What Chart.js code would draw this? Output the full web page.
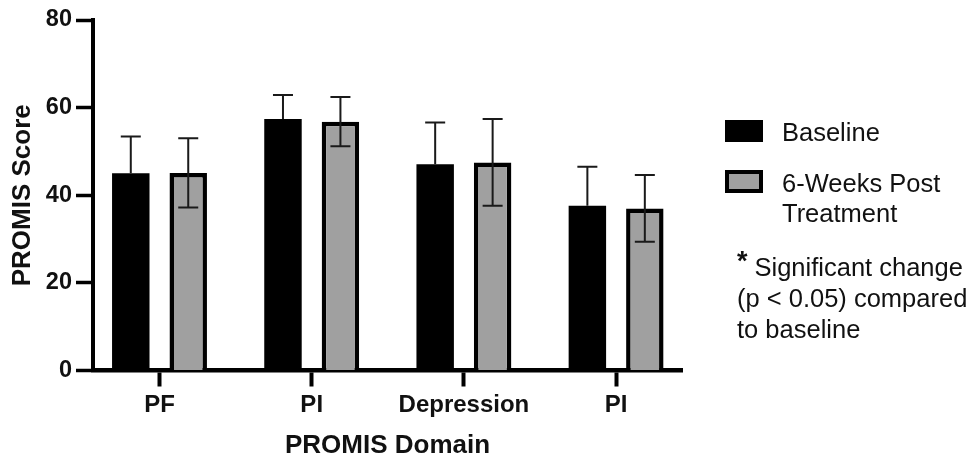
<!DOCTYPE html>
<html>
<head>
<meta charset="utf-8">
<script src="https://cdn.jsdelivr.net/npm/chart.js@4/dist/chart.umd.min.js"></script>
<style>
  html, body { margin: 0; padding: 0; background: #fff; }
  #wrap { position: relative; width: 977px; height: 457px; overflow: hidden; font-family: 'Liberation Sans', Arial, Helvetica, sans-serif; color: #111; }
  #c { position: absolute; left: 0; top: 0; }
  .box { position: absolute; box-sizing: border-box; }
  .txt { position: absolute; font-size: 25.5px; line-height: 30px; white-space: nowrap; }
  .star { font-weight: bold; font-size: 27px; position: relative; top: -6px; margin-right: 7px; }
</style>
</head>
<body>
<div id="wrap">
  <canvas id="c" width="977" height="457"></canvas>
  <div class="box" style="left:725px;top:120px;width:38px;height:22px;background:#000;"></div>
  <div class="txt" id="lg1" style="left:782px;top:117px;"></div>
  <div class="box" style="left:725px;top:170px;width:38px;height:23px;background:#a0a0a0;border:4px solid #000;"></div>
  <div class="txt" id="lg2" style="left:782px;top:168px;"></div>
  <div class="txt" id="note" style="left:737px;top:252px;line-height:31px;"></div>
</div>
<script>
// ---- data ----
const categories = ['PF', 'PI', 'Depression', 'PI'];
const seriesNames = ['Baseline', '6-Weeks Post', 'Treatment'];
const baselineValues = [45.0, 57.4, 47.1, 37.6];
const baselineErrors = [8.4, 5.5, 9.5, 8.9];
const postValues = [45.1, 56.8, 47.5, 37.0];
const postErrors = [7.9, 5.6, 9.9, 7.6];
const yTicks = [0, 20, 40, 60, 80];
const yTitle = 'PROMIS Score';
const xTitle = 'PROMIS Domain';
const noteLines = ['Significant change', '(p < 0.05) compared', 'to baseline'];

// legend / note text
document.getElementById('lg1').textContent = seriesNames[0];
document.getElementById('lg2').innerHTML = seriesNames[1] + '<br>' + seriesNames[2];
document.getElementById('note').innerHTML = '<span class="star">*</span>' + noteLines.join('<br>');

const FONT = "'Liberation Sans', Arial, Helvetica, sans-serif";

const errorBars = {
  id: 'errorBars',
  afterDatasetsDraw(chart) {
    const ctx = chart.ctx;
    const ys = chart.scales.y;
    chart.data.datasets.forEach((ds, di) => {
      const meta = chart.getDatasetMeta(di);
      meta.data.forEach((bar, i) => {
        const v = ds.data[i].y, e = ds.errors[i];
        const x = bar.x;
        const yt = ys.getPixelForValue(v + e);
        const yb = ys.getPixelForValue(v - e);
        const y0 = ys.getPixelForValue(v);
        ctx.save();
        ctx.strokeStyle = '#1a1a1a';
        ctx.lineWidth = 2;
        ctx.beginPath();
        ctx.moveTo(x, yt); ctx.lineTo(x, ds.errorLower ? yb : y0);
        ctx.moveTo(x - 10, yt); ctx.lineTo(x + 10, yt);
        if (ds.errorLower) { ctx.moveTo(x - 10, yb); ctx.lineTo(x + 10, yb); }
        ctx.stroke();
        ctx.restore();
      });
    });
  }
};

new Chart(document.getElementById('c'), {
  type: 'bar',
  data: {
    datasets: [
      {
        label: seriesNames[0],
        data: baselineValues.map((v, i) => ({ x: i, y: v })),
        errors: baselineErrors,
        errorLower: false,
        backgroundColor: '#000',
        borderWidth: 0
      },
      {
        label: seriesNames[1] + ' ' + seriesNames[2],
        data: postValues.map((v, i) => ({ x: i, y: v })),
        errors: postErrors,
        errorLower: true,
        backgroundColor: '#a0a0a0',
        borderColor: '#000',
        borderWidth: 4.5
      }
    ]
  },
  options: {
    responsive: false,
    animation: false,
    categoryPercentage: 0.755,
    barPercentage: 0.652,
    layout: { padding: { left: 6, top: 20, right: 295, bottom: 0 } },
    plugins: { legend: { display: false }, tooltip: { enabled: false } },
    scales: {
      x: {
        type: 'linear',
        min: -0.437,
        max: 3.433,
        offset: false,
        z: 1,
        afterBuildTicks(scale) { scale.ticks = categories.map((c, i) => ({ value: i })); },
        afterFit(scale) { scale.height = 86.5; },
        grid: { display: true, drawOnChartArea: false, offset: false, tickLength: 16, tickWidth: 4, tickColor: '#000' },
        border: { display: true, color: '#000', width: 4.5 },
        ticks: {
          autoSkip: false, maxRotation: 0, padding: 4, color: '#111',
          font: { family: FONT, size: 24, weight: 'bold' },
          callback: (v) => categories[v]
        },
        title: { display: true, text: xTitle, color: '#111', padding: { top: 0, bottom: -2 }, font: { family: FONT, size: 26, weight: 'bold', lineHeight: 1 } }
      },
      y: {
        min: 0, max: 80,
        z: 1,
        afterBuildTicks(scale) { scale.ticks = yTicks.map(v => ({ value: v })); },
        afterFit(scale) { scale.width = 87; },
        grid: { display: true, drawOnChartArea: false, tickLength: 17, tickWidth: 3.5, tickColor: '#000' },
        border: { display: true, color: '#000', width: 4 },
        ticks: { padding: 4, color: '#111', font: { family: FONT, size: 23.5, weight: 'bold' } },
        title: { display: true, text: yTitle, color: '#111', padding: { top: 3.5, bottom: 0 }, font: { family: FONT, size: 26, weight: 'bold', lineHeight: 1 } }
      }
    }
  },
  plugins: [errorBars]
});
</script>
</body>
</html>
